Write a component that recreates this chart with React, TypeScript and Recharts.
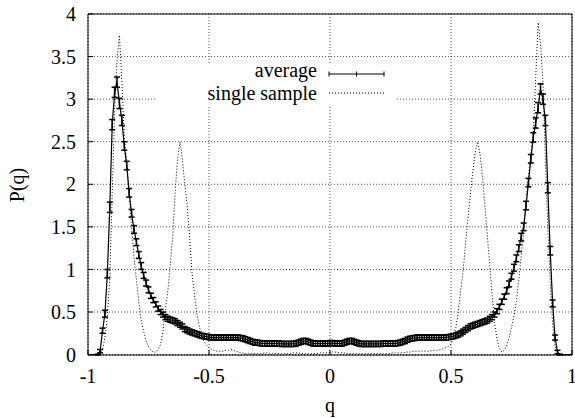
import React from 'react';
import { LineChart, Line, XAxis, YAxis, CartesianGrid, ErrorBar, Legend } from 'recharts';

// P(q) sampled on q = -1 .. 1, step 0.01 (201 points)
const qStart = -1;
const qStep = 0.01;

const averageP = [
  0, 0, 0, 0, 0, 0.04, 0.28, 0.48, 0.95, 1.73,
  2.7, 3.08, 3.2, 2.95, 2.75, 2.45, 2.22, 1.9, 1.66, 1.47,
  1.32, 1.17, 1.04, 0.93, 0.84, 0.76, 0.69, 0.64, 0.59, 0.54,
  0.5, 0.47, 0.44, 0.42, 0.41, 0.4, 0.39, 0.37, 0.35, 0.33,
  0.3, 0.285, 0.27, 0.26, 0.25, 0.24, 0.23, 0.22, 0.215, 0.21,
  0.205, 0.2, 0.2, 0.2, 0.2, 0.2, 0.2, 0.2, 0.2, 0.2,
  0.2, 0.2, 0.2, 0.195, 0.19, 0.18, 0.17, 0.16, 0.15, 0.14,
  0.14, 0.135, 0.13, 0.13, 0.13, 0.13, 0.13, 0.13, 0.13, 0.13,
  0.125, 0.125, 0.125, 0.125, 0.125, 0.125, 0.13, 0.14, 0.15, 0.16,
  0.16, 0.15, 0.14, 0.13, 0.13, 0.13, 0.13, 0.13, 0.13, 0.13,
  0.135, 0.135, 0.13, 0.13, 0.13, 0.13, 0.14, 0.15, 0.16, 0.16,
  0.15, 0.14, 0.13, 0.125, 0.125, 0.125, 0.125, 0.125, 0.125, 0.125,
  0.125, 0.125, 0.13, 0.13, 0.13, 0.13, 0.13, 0.13, 0.135, 0.14,
  0.15, 0.16, 0.175, 0.185, 0.19, 0.195, 0.2, 0.2, 0.2, 0.2,
  0.2, 0.2, 0.2, 0.2, 0.2, 0.2, 0.2, 0.2, 0.2, 0.205,
  0.21, 0.215, 0.225, 0.235, 0.25, 0.27, 0.29, 0.31, 0.33, 0.34,
  0.35, 0.36, 0.37, 0.38, 0.39, 0.4, 0.42, 0.44, 0.47, 0.51,
  0.56, 0.62, 0.68, 0.75, 0.83, 0.92, 1.02, 1.13, 1.25, 1.38,
  1.5, 1.75, 2.02, 2.3, 2.55, 2.72, 2.9, 3.12, 3.0, 2.75,
  1.96, 1.22, 0.6, 0.2, 0.03, 0, 0, 0, 0, 0,
  0,
];

const averageErr = [
  0, 0, 0, 0, 0.005, 0.02, 0.03, 0.04, 0.05, 0.06,
  0.06, 0.06, 0.06, 0.06, 0.06, 0.05, 0.05, 0.05, 0.045, 0.045,
  0.04, 0.04, 0.04, 0.035, 0.035, 0.035, 0.03, 0.03, 0.03, 0.03,
  0.03, 0.03, 0.03, 0.03, 0.03, 0.03, 0.03, 0.03, 0.03, 0.03,
  0.03, 0.03, 0.03, 0.03, 0.03, 0.03, 0.03, 0.03, 0.03, 0.03,
  0.03, 0.03, 0.03, 0.03, 0.03, 0.03, 0.03, 0.03, 0.03, 0.03,
  0.03, 0.03, 0.03, 0.03, 0.03, 0.03, 0.03, 0.03, 0.03, 0.03,
  0.03, 0.03, 0.03, 0.03, 0.03, 0.03, 0.03, 0.03, 0.03, 0.03,
  0.03, 0.03, 0.03, 0.03, 0.03, 0.03, 0.03, 0.03, 0.03, 0.03,
  0.03, 0.03, 0.03, 0.03, 0.03, 0.03, 0.03, 0.03, 0.03, 0.03,
  0.03, 0.03, 0.03, 0.03, 0.03, 0.03, 0.03, 0.03, 0.03, 0.03,
  0.03, 0.03, 0.03, 0.03, 0.03, 0.03, 0.03, 0.03, 0.03, 0.03,
  0.03, 0.03, 0.03, 0.03, 0.03, 0.03, 0.03, 0.03, 0.03, 0.03,
  0.03, 0.03, 0.03, 0.03, 0.03, 0.03, 0.03, 0.03, 0.03, 0.03,
  0.03, 0.03, 0.03, 0.03, 0.03, 0.03, 0.03, 0.03, 0.03, 0.03,
  0.03, 0.03, 0.03, 0.03, 0.03, 0.03, 0.03, 0.03, 0.03, 0.03,
  0.03, 0.03, 0.03, 0.03, 0.03, 0.03, 0.03, 0.03, 0.03, 0.03,
  0.03, 0.03, 0.03, 0.035, 0.035, 0.035, 0.04, 0.04, 0.04, 0.045,
  0.045, 0.05, 0.05, 0.05, 0.055, 0.06, 0.06, 0.06, 0.06, 0.06,
  0.06, 0.05, 0.04, 0.03, 0.02, 0.005, 0, 0, 0, 0,
  0,
];

const singleP = [
  0, 0, 0, 0, 0, 0.01, 0.05, 0.2, 0.45, 0.9,
  1.9, 2.85, 3.45, 3.75, 3.2, 2.55, 2.25, 1.9, 1.5, 1.15,
  0.88, 0.62, 0.4, 0.27, 0.16, 0.09, 0.05, 0.03, 0.03, 0.06,
  0.12, 0.28, 0.53, 0.75, 1.05, 1.38, 1.9, 2.3, 2.5, 2.3,
  2.0, 1.75, 1.38, 0.95, 0.7, 0.48, 0.33, 0.22, 0.15, 0.11,
  0.08, 0.06, 0.05, 0.04, 0.04, 0.04, 0.04, 0.05, 0.05, 0.06,
  0.05, 0.04, 0.03, 0.02, 0.02, 0.01, 0.01, 0.01, 0.01, 0.01,
  0.01, 0.01, 0.015, 0.02, 0.02, 0.015, 0.01, 0.01, 0.01, 0.01,
  0.01, 0.01, 0.01, 0.01, 0.015, 0.02, 0.02, 0.02, 0.015, 0.01,
  0.01, 0.01, 0.01, 0.01, 0.01, 0.015, 0.02, 0.02, 0.02, 0.02,
  0.025, 0.03, 0.03, 0.025, 0.02, 0.02, 0.02, 0.015, 0.01, 0.01,
  0.01, 0.01, 0.01, 0.01, 0.01, 0.01, 0.01, 0.01, 0.01, 0.01,
  0.01, 0.01, 0.01, 0.01, 0.01, 0.015, 0.02, 0.02, 0.02, 0.02,
  0.02, 0.025, 0.03, 0.03, 0.035, 0.04, 0.04, 0.04, 0.04, 0.04,
  0.04, 0.04, 0.045, 0.05, 0.05, 0.055, 0.06, 0.07, 0.08, 0.1,
  0.12, 0.2, 0.32, 0.5, 0.75, 0.98, 1.3, 1.6, 1.88, 2.15,
  2.38, 2.5, 2.35, 2.1, 1.75, 1.4, 1.05, 0.7, 0.38, 0.18,
  0.07, 0.03, 0.05, 0.1, 0.2, 0.32, 0.45, 0.62, 0.88, 1.15,
  1.42, 1.8, 2.1, 2.35, 2.6, 3.25, 3.9, 3.65, 3.2, 2.3,
  1.5, 0.85, 0.35, 0.1, 0.02, 0, 0, 0, 0, 0,
  0,
];

const seriesNames = ['average', 'single sample'];
const xTicks = [-1, -0.5, 0, 0.5, 1];
const yTicks = [0, 0.5, 1, 1.5, 2, 2.5, 3, 3.5, 4];

const rows = averageP.map((p, i) => ({
  q: Math.round((qStart + i * qStep) * 100) / 100,
  avg: p,
  err: averageErr[i],
  single: singleP[i],
}));

const W = 575;
const H = 418;
const FONT = 'Liberation Serif';
const tickStyle = { fontSize: 20, fill: '#000', fontFamily: FONT };

// gnuplot-like key: opaque box with line samples
const KeyBox = () => (
  <svg width={239} height={41} style={{ display: 'block', overflow: 'visible' }}>
    <text x={160} y={13} textAnchor="end" fontSize={20} fontFamily={FONT} fill="#000">
      {seriesNames[0]}
    </text>
    <line x1={172} y1={10} x2={227} y2={10} stroke="#000" />
    <line x1={172} y1={7.5} x2={172} y2={12.5} stroke="#000" />
    <line x1={199.5} y1={7.5} x2={199.5} y2={12.5} stroke="#000" />
    <line x1={227} y1={7.5} x2={227} y2={12.5} stroke="#000" />
    <text x={160} y={35.5} textAnchor="end" fontSize={20} fontFamily={FONT} fill="#000">
      {seriesNames[1]}
    </text>
    <line x1={172} y1={29} x2={227} y2={29} stroke="#000" strokeDasharray="1 2" />
  </svg>
);

const YTitle = () => (
  <text x={17} y={185} transform="rotate(-90, 17, 185)" textAnchor="middle" dominantBaseline="central"
    fontSize={20} fontFamily={FONT} fill="#000">P(q)</text>
);

const XTitle = () => (
  <text x={330} y={412} textAnchor="middle" fontSize={20} fontFamily={FONT} fill="#000">q</text>
);

export default function App() {
  return (
    <div style={{ position: 'absolute', left: 0, top: 0, width: W, height: H, background: '#fff' }}>
      <LineChart width={W} height={H} data={rows} margin={{ top: 0, right: 0, bottom: 0, left: 0 }}
        style={{ fontFamily: FONT }}>
        <CartesianGrid stroke="#555" strokeDasharray="1 2" />
        <XAxis dataKey="q" type="number" domain={[-1, 1]} ticks={xTicks} height={63}
          axisLine={{ stroke: '#000' }} tickLine={{ stroke: '#000' }} tickSize={-5} tickMargin={19}
          tick={tickStyle} interval={0} label={<XTitle />} />
        <XAxis xAxisId="top" dataKey="q" type="number" orientation="top" domain={[-1, 1]} ticks={xTicks}
          height={14} axisLine={{ stroke: '#000' }} tickLine={{ stroke: '#000' }} tickSize={-5} tick={false} />
        <YAxis type="number" domain={[0, 4]} ticks={yTicks} width={88} interval={0}
          axisLine={{ stroke: '#000' }} tickLine={{ stroke: '#000' }} tickSize={-5} tickMargin={17}
          tick={tickStyle} label={<YTitle />} />
        <YAxis yAxisId="right" orientation="right" type="number" domain={[0, 4]} ticks={yTicks} width={3}
          axisLine={{ stroke: '#000' }} tickLine={{ stroke: '#000' }} tickSize={-5} tick={false} />
        <Legend verticalAlign="middle" layout="horizontal"
          wrapperStyle={{ position: 'absolute', left: 157, top: 64, width: 239, height: 41, background: '#fff', margin: 0, padding: 0 }}
          content={() => <KeyBox />} />
        <Line name={seriesNames[1]} dataKey="single" type="linear" stroke="#000" strokeWidth={1}
          strokeDasharray="1 2" dot={false} isAnimationActive={false} />
        <Line name={seriesNames[0]} dataKey="avg" type="linear" stroke="#000" strokeWidth={1.2}
          dot={false} isAnimationActive={false}>
          <ErrorBar dataKey="err" direction="y" width={3} stroke="#000" strokeWidth={1.5} isAnimationActive={false} />
        </Line>
      </LineChart>
    </div>
  );
}
